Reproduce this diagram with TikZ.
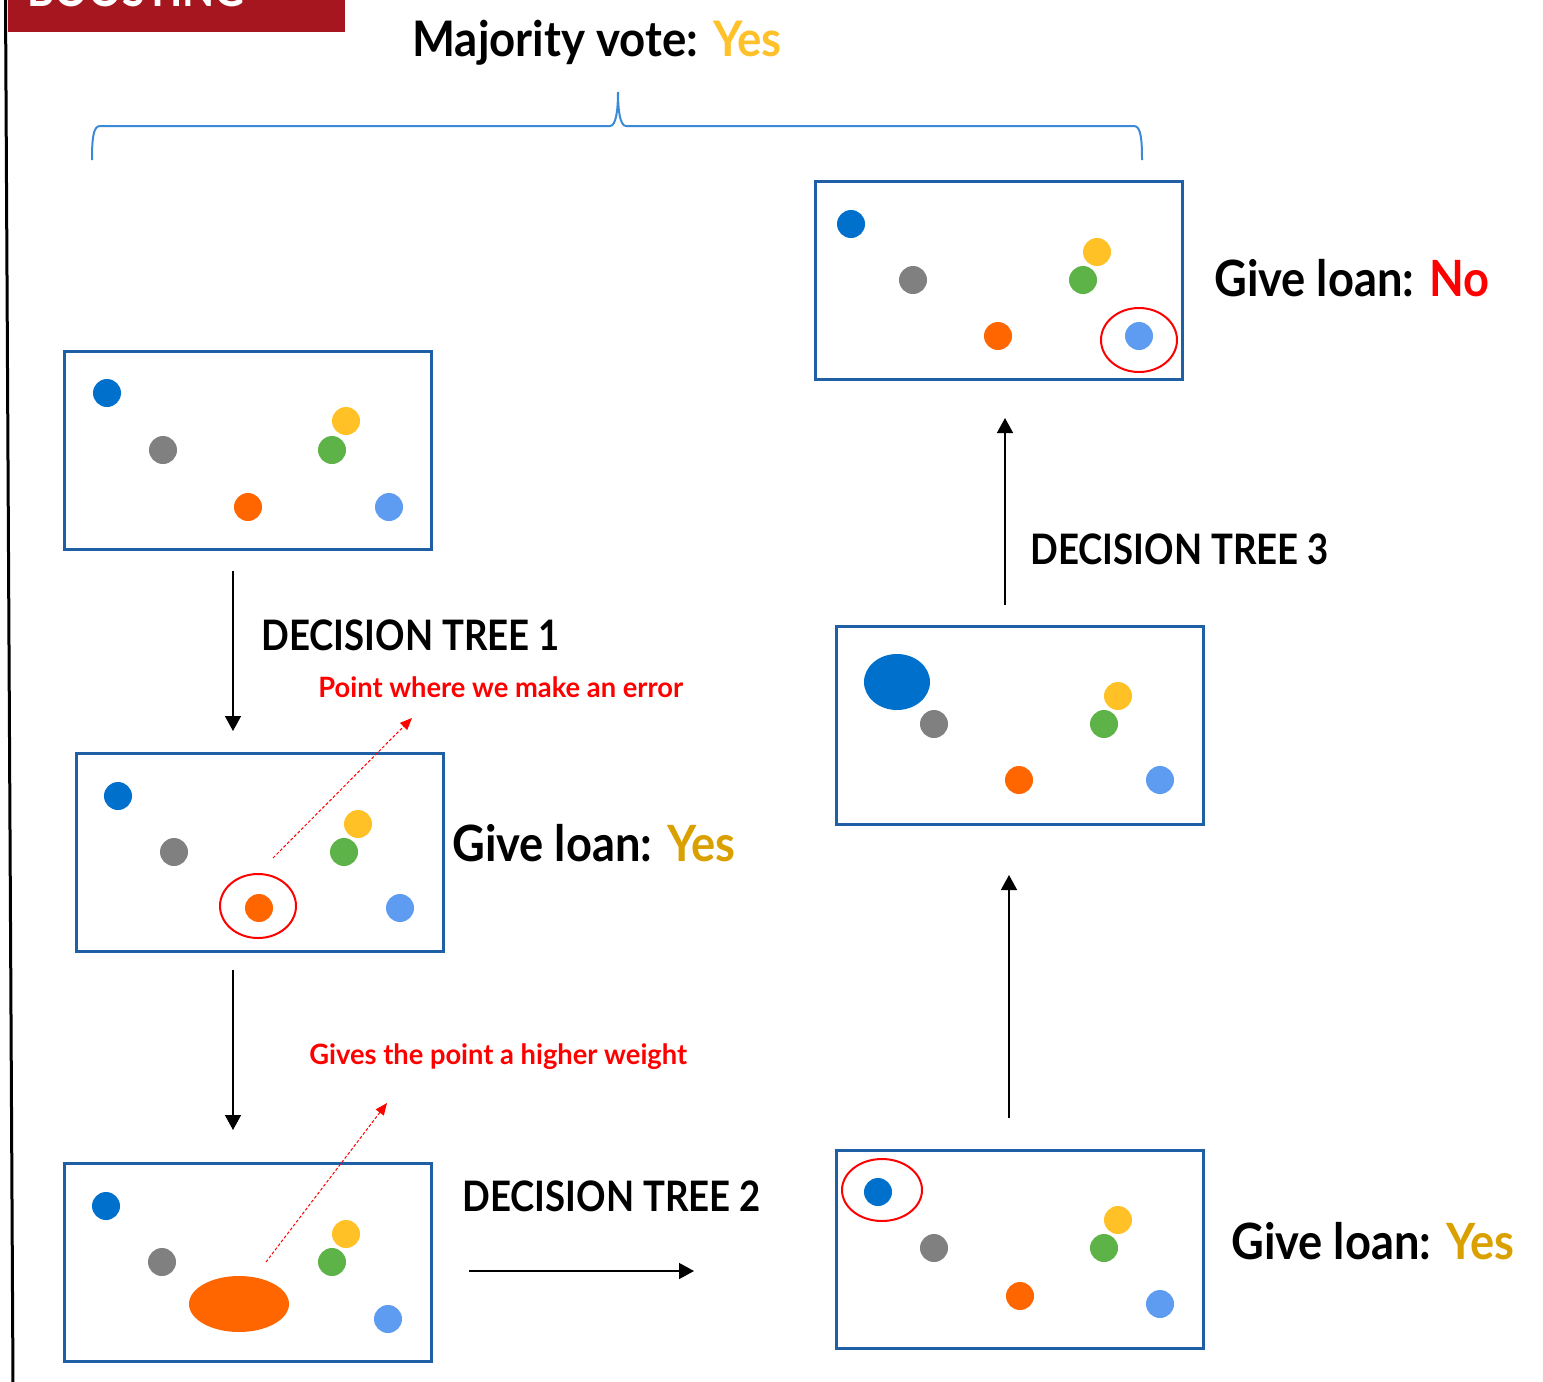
\documentclass[tikz,border=0pt]{standalone}
\usepackage{fontspec}
\setmainfont{Lato}
\newfontfamily\titlefam[FakeStretch=0.93]{Lato}
\newfontfamily\treefam[FakeStretch=0.87]{Lato}
\newfontfamily\verdictfam[FakeStretch=0.905]{Lato}
\newfontfamily\notefam[FakeStretch=0.975]{Lato}
\usetikzlibrary{arrows.meta,shapes.geometric}

\definecolor{banner}{HTML}{A6161E}
\definecolor{frame}{HTML}{1F5FA5}
\definecolor{brace}{HTML}{3A8AD8}
\definecolor{cblue}{HTML}{0070CD}
\definecolor{cgray}{HTML}{808080}
\definecolor{cyellow}{HTML}{FFC125}
\definecolor{cgreen}{HTML}{5DB348}
\definecolor{corange}{HTML}{FF6600}
\definecolor{clight}{HTML}{5E9CF2}
\definecolor{gold}{HTML}{FFC12A}
\definecolor{darkgold}{HTML}{D9A000}
\definecolor{alert}{HTML}{FF0000}

\tikzset{
  panel/.style={draw=frame, line width=1.5pt, fill=white, minimum width=183.5pt, minimum height=99pt, inner sep=0pt, outer sep=0pt},
  dot/.style={circle, inner sep=0pt, minimum size=14pt},
  blob/.style={ellipse, inner sep=0pt},
  ring/.style={ellipse, draw=alert, line width=1pt, inner sep=0pt, minimum width=38pt, minimum height=32pt},
  flow/.style={draw=black, line width=0.75pt, -{Triangle[width=8pt,length=7.5pt]}},
  hint/.style={draw=alert, line width=0.5pt, dash pattern=on 1.5pt off 1pt, -{Triangle[width=5pt,length=6pt]}},
  title/.style={inner sep=0pt, anchor=base west, font=\titlefam\bfseries\fontsize{24.5}{28}\selectfont},
  treelabel/.style={inner sep=0pt, anchor=base west, font=\treefam\bfseries\fontsize{21}{24}\selectfont},
  verdict/.style={inner sep=0pt, anchor=base west, font=\verdictfam\bfseries\fontsize{25}{29}\selectfont},
  note/.style={inner sep=0pt, anchor=base west, text=alert, font=\notefam\bfseries\fontsize{14}{17}\selectfont},
}

\begin{document}
\begin{tikzpicture}[x=0.5pt, y=-0.5pt]
\useasboundingbox (0,0) rectangle (1543,1382);
\clip (0,0) rectangle (1543,1382);

% section banner and left rule
\fill[banner] (8,-2) rectangle (345,32);
\node[inner sep=0pt, anchor=base west, text=white, font=\treefam\bfseries\fontsize{24}{28}\selectfont] (banner) at (27,6) {BOOSTING};
\draw[black, line width=1.5pt] (5.5,-2) -- (13,1384);

% majority vote and brace
\node[title] (vote) at (412,56) {Majority vote: \textcolor{gold}{Yes}};
\draw[brace, line width=1pt] (92,160) .. controls (92,140) and (93,126) .. (100,126)
  -- (610,126) .. controls (616,126) and (618,110) .. (618,92)
  .. controls (618,110) and (620,126) .. (626,126)
  -- (1134,126) .. controls (1141,126) and (1142,140) .. (1142,160);

% panel 1: initial data
\node[panel, anchor=north west] (p1) at (64,351) {};
\node[dot, fill=cblue]   (p1a) at (107,393) {};
\node[dot, fill=cgray]   (p1b) at (163,450) {};
\node[dot, fill=cyellow] (p1c) at (346,421) {};
\node[dot, fill=cgreen]  (p1d) at (332,450) {};
\node[dot, fill=corange] (p1e) at (248,507) {};
\node[dot, fill=clight]  (p1f) at (389,507) {};

% panel 2: first tree, orange point misclassified
\node[panel, anchor=north west] (p2) at (76,753) {};
\node[dot, fill=cblue]   (p2a) at (118,796) {};
\node[dot, fill=cgray]   (p2b) at (174,852) {};
\node[dot, fill=cyellow] (p2c) at (358,824) {};
\node[dot, fill=cgreen]  (p2d) at (344,852) {};
\node[dot, fill=corange] (p2e) at (259,908) {};
\node[dot, fill=clight]  (p2f) at (400,908) {};
\node[ring] (r2) at (258,906) {};

% panel 3: orange point reweighted
\node[panel, anchor=north west] (p3) at (64,1163) {};
\node[dot, fill=cblue]   (p3a) at (106,1206) {};
\node[dot, fill=cgray]   (p3b) at (162,1262) {};
\node[dot, fill=cyellow] (p3c) at (346,1234) {};
\node[dot, fill=cgreen]  (p3d) at (332,1262) {};
\node[blob, fill=corange, minimum width=50pt, minimum height=28pt] (p3e) at (239,1304) {};
\node[dot, fill=clight]  (p3f) at (388,1319) {};

% panel 4: second tree, blue point misclassified
\node[panel, anchor=north west] (p4) at (836,1150) {};
\node[dot, fill=cblue]   (p4a) at (878,1192) {};
\node[dot, fill=cgray]   (p4b) at (934,1248) {};
\node[dot, fill=cyellow] (p4c) at (1118,1220) {};
\node[dot, fill=cgreen]  (p4d) at (1104,1248) {};
\node[dot, fill=corange] (p4e) at (1020,1296) {};
\node[dot, fill=clight]  (p4f) at (1160,1304) {};
\node[ring, minimum width=40pt, minimum height=31pt] (r4) at (882,1190) {};

% panel 5: blue point reweighted
\node[panel, anchor=north west] (p5) at (836,626) {};
\node[blob, fill=cblue, minimum width=33pt, minimum height=28pt] (p5a) at (897,682) {};
\node[dot, fill=cgray]   (p5b) at (934,724) {};
\node[dot, fill=cyellow] (p5c) at (1118,696) {};
\node[dot, fill=cgreen]  (p5d) at (1104,724) {};
\node[dot, fill=corange] (p5e) at (1019,780) {};
\node[dot, fill=clight]  (p5f) at (1160,780) {};

% panel 6: third tree, light blue point misclassified
\node[panel, anchor=north west] (p6) at (815,181) {};
\node[dot, fill=cblue]   (p6a) at (851,224) {};
\node[dot, fill=cgray]   (p6b) at (913,280) {};
\node[dot, fill=cyellow] (p6c) at (1097,252) {};
\node[dot, fill=cgreen]  (p6d) at (1083,280) {};
\node[dot, fill=corange] (p6e) at (998,336) {};
\node[dot, fill=clight]  (p6f) at (1139,336) {};
\node[ring] (r6) at (1139,340) {};

% flow between panels
\coordinate (f1s) at (233,571);  \coordinate (f1e) at (233,731);
\coordinate (f2s) at (233,970);  \coordinate (f2e) at (233,1130);
\coordinate (f3s) at (469,1271); \coordinate (f3e) at (694,1271);
\coordinate (f4s) at (1009,1118); \coordinate (f4e) at (1009,875);
\coordinate (f5s) at (1005,605); \coordinate (f5e) at (1005,418);
\draw[flow] (f1s) -- (f1e);
\draw[flow] (f2s) -- (f2e);
\draw[flow] (f3s) -- (f3e);
\draw[flow] (f4s) -- (f4e);
\draw[flow] (f5s) -- (f5e);

% labels
\node[treelabel] (t1) at (261,650) {DECISION TREE 1};
\node[treelabel] (t2) at (462,1211) {DECISION TREE 2};
\node[treelabel] (t3) at (1030,564) {DECISION TREE 3};
\node[verdict] (v2) at (452,861) {Give loan: \textcolor{darkgold}{Yes}};
\node[verdict] (v4) at (1231,1259) {Give loan: \textcolor{darkgold}{Yes}};
\node[verdict] (v6) at (1214,296) {Give loan: \textcolor{alert}{No}};

% annotations
\node[note] (n1) at (318,697) {Point where we make an error};
\node[note] (n2) at (309,1064) {Gives the point a higher weight};
\coordinate (h1s) at (273,858); \coordinate (h1e) at (412,718);
\coordinate (h2s) at (266,1262); \coordinate (h2e) at (387,1103);
\draw[hint] (h1s) -- (h1e);
\draw[hint] (h2s) -- (h2e);
\end{tikzpicture}
\end{document}
